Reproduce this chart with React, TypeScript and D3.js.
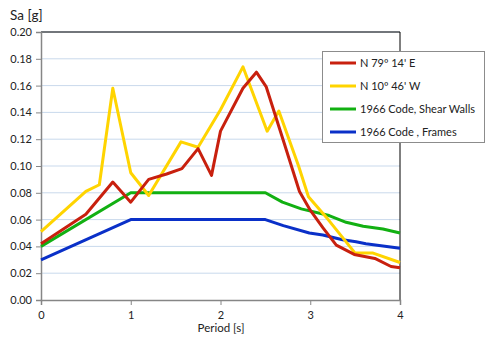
import * as d3 from "d3";
import { useEffect, useRef } from "react";

// periods [s] and spectral accelerations [g]
const periodNS = [0, 0.5, 0.65, 0.8, 1.0, 1.2, 1.56, 1.75, 2.0, 2.25, 2.52, 2.65, 2.87, 2.98, 3.2, 3.5, 3.7, 4.0];
const saNS = [0.051, 0.081, 0.086, 0.158, 0.095, 0.078, 0.118, 0.114, 0.142, 0.174, 0.126, 0.141, 0.1, 0.077, 0.06, 0.035, 0.035, 0.028];

const periodEW = [0, 0.5, 0.8, 1.0, 1.2, 1.4, 1.57, 1.75, 1.9, 2.0, 2.25, 2.4, 2.51, 2.7, 2.88, 3.0, 3.14, 3.29, 3.49, 3.72, 3.9, 4.0];
const saEW = [0.042, 0.064, 0.088, 0.073, 0.09, 0.094, 0.098, 0.113, 0.093, 0.126, 0.158, 0.17, 0.159, 0.119, 0.081, 0.067, 0.054, 0.041, 0.034, 0.031, 0.025, 0.024];

const periodWalls = [0, 1.0, 2.5, 2.69, 2.9, 3.21, 3.4, 3.59, 3.81, 4.0];
const saWalls = [0.04, 0.08, 0.08, 0.073, 0.068, 0.063, 0.058, 0.055, 0.053, 0.05];

const periodFrames = [0, 1.0, 2.5, 2.7, 2.99, 3.14, 3.36, 3.51, 3.62, 4.0];
const saFrames = [0.03, 0.06, 0.06, 0.0555, 0.05, 0.0485, 0.045, 0.0435, 0.042, 0.0386];

const seriesNames = ["N 79º 14' E", "N 10º 46' W", "1966 Code, Shear Walls", "1966 Code , Frames"];
const seriesColors = ["#c8200e", "#ffd400", "#12b012", "#0a30c8"];

const yTicks = [0, 0.02, 0.04, 0.06, 0.08, 0.1, 0.12, 0.14, 0.16, 0.18, 0.2];
const xTicks = [0, 1, 2, 3, 4];

const font = "Lato, 'Open Sans', sans-serif";

export default function App() {
    const svgRef = useRef<SVGSVGElement>(null);
    const width = 486;
    const height = 338;
    const left = 41;
    const right = 400;
    const top = 32;
    const bottom = 300;

    useEffect(() => {
        const svg = d3.select(svgRef.current);
        svg.selectAll("*").remove();

        const x = d3.scaleLinear().domain([0, 4]).range([left, right]);
        const y = d3.scaleLinear().domain([0, 0.2]).range([bottom, top]);

        // grid lines
        svg.append("g")
            .selectAll("line")
            .data(yTicks.slice(1))
            .join("line")
            .attr("x1", left)
            .attr("x2", right)
            .attr("y1", (d) => y(d))
            .attr("y2", (d) => y(d))
            .attr("stroke", "#c9d9ec")
            .attr("stroke-width", 1);

        // top / right border
        svg.append("path")
            .attr("d", `M${left},${top}H${right}V${bottom}`)
            .attr("fill", "none")
            .attr("stroke", "#000")
            .attr("stroke-width", 1);

        // y axis
        const yAxis = svg
            .append("g")
            .attr("transform", `translate(${left},0)`)
            .call(d3.axisLeft(y).tickValues(yTicks).tickFormat(d3.format(".2f")).tickSize(5).tickPadding(4));
        yAxis.select(".domain").attr("stroke", "#868686").attr("stroke-width", 1.5);
        yAxis.selectAll(".tick line").attr("stroke", "#868686");
        yAxis.selectAll("text").attr("font-family", font).attr("font-size", 11).attr("fill", "#222");

        // x axis
        const xAxis = svg
            .append("g")
            .attr("transform", `translate(0,${bottom})`)
            .call(d3.axisBottom(x).tickValues(xTicks).tickFormat(d3.format("d")).tickSize(5).tickPadding(6));
        xAxis.select(".domain").attr("stroke", "#868686").attr("stroke-width", 1.5);
        xAxis.selectAll(".tick line").attr("stroke", "#868686");
        xAxis.selectAll("text").attr("font-family", font).attr("font-size", 11).attr("fill", "#222");

        // series
        const allX = [periodEW, periodNS, periodWalls, periodFrames];
        const allY = [saEW, saNS, saWalls, saFrames];
        const line = d3
            .line<[number, number]>()
            .x((d) => x(d[0]))
            .y((d) => y(d[1]));
        // draw codes first, then records
        [2, 3, 1, 0].forEach((i) => {
            const pts = allX[i].map((t, k) => [t, allY[i][k]] as [number, number]);
            svg.append("path")
                .datum(pts)
                .attr("d", line)
                .attr("fill", "none")
                .attr("stroke", seriesColors[i])
                .attr("stroke-width", 3)
                .attr("stroke-linejoin", "round");
        });

        // axis titles
        svg.append("text")
            .attr("x", 10)
            .attr("y", 20)
            .attr("font-family", font)
            .attr("font-size", 13.5)
            .attr("fill", "#222")
            .text("Sa [g]");
        svg.append("text")
            .attr("x", 221)
            .attr("y", 332)
            .attr("text-anchor", "middle")
            .attr("font-family", font)
            .attr("font-size", 11.5)
            .attr("fill", "#222")
            .text("Period [s]");

        // legend
        const legend = svg.append("g");
        legend
            .append("rect")
            .attr("x", 322.5)
            .attr("y", 51.5)
            .attr("width", 162)
            .attr("height", 91)
            .attr("fill", "#fff")
            .attr("stroke", "#8c8c8c");
        seriesNames.forEach((name, i) => {
            const ly = 63 + i * 23;
            legend
                .append("line")
                .attr("x1", 330)
                .attr("x2", 356)
                .attr("y1", ly)
                .attr("y2", ly)
                .attr("stroke", seriesColors[i])
                .attr("stroke-width", 3);
            legend
                .append("text")
                .attr("x", 360)
                .attr("y", ly + 4)
                .attr("font-family", font)
                .attr("font-size", 11)
                .attr("fill", "#222")
                .text(name);
        });
    }, []);

    return (
        <svg
            ref={svgRef}
            width={width}
            height={height}
            style={{ position: "absolute", left: 0, top: 0, background: "#fff" }}
        />
    );
}
